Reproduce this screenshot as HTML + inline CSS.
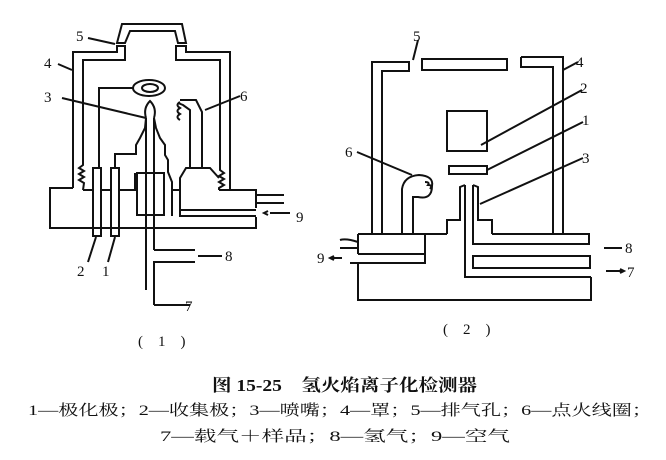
<!DOCTYPE html>
<html><head><meta charset="utf-8"><style>
body{margin:0;background:#fff;width:666px;height:460px;overflow:hidden}
svg{position:absolute;left:0;top:0}
.c{font-family:"Liberation Serif","Noto Serif CJK SC",serif;fill:#111}
</style></head><body>
<svg width="666" height="460" viewBox="0 0 666 460" xmlns="http://www.w3.org/2000/svg" fill="none" stroke="#111" stroke-width="2">
<path d="M117,43 L122,24 L182,24 L186,43 L178,43 L175,31 L130,31 L125,43 Z"/>
<path d="M73,188 L73,52 L117,52 L117,46 L125,46 L125,60 L83,60 L83,165 l-4,3 l5,3 l-5,3 l5,3 l-5,3 l5,3 L83,190"/>
<path d="M230,190 L230,52 L186,52 L186,46 L176,46 L176,60 L220,60 L220,170 l4,3 l-5,3 l5,3 l-5,3 l5,3 l-5,3 L219,190"/>
<path d="M73,188 L50,188 L50,228 L256,228 L256,217"/>
<path d="M83,190 L93,190 M101,190 L111,190 M119,190 L135,190 L135,173"/>
<path d="M172,190 L180,190 L180,216 L256,216 M172,190 L172,216"/>
<path d="M219,190 L256,190 L256,208"/>
<path d="M180,210 L256,210"/>
<path d="M256,195 L284,195 M256,203 L284,203"/>
<path d="M270,213 L290,213 M268,211 l-4,2 l4,2"/>
<path d="M180,205 L180,178 L186,168 L210,168 L219,178"/>
<path d="M190,168 L190,110 L183,105 L178,103 M202,168 L202,112 L196,100 L180,100"/>
<path d="M180,102 q-5,3 0,6 q-5,3 0,6 q-5,3 0,6"/>
<rect x="93" y="168" width="8" height="68"/>
<rect x="111" y="168" width="8" height="68"/>
<path d="M99,168 L99,88 L133,88"/>
<path d="M115,168 L115,154 L136,154 L136,145 L140,138 L145,128 L146,118"/>
<path d="M154,118 L156,128 L160,138 L165,145 L165,155 L168,160 L168,172 L172,182 L172,190"/>
<ellipse cx="149" cy="88" rx="16" ry="8"/>
<ellipse cx="150" cy="88" rx="8" ry="4"/>
<rect x="137" y="173" width="27" height="42"/>
<path d="M146,290 L146,118 M154,250 L154,118"/>
<path d="M146,118 q-3,-10 4,-17 q7,7 4,17"/>
<path d="M154,250 L195,250 M154,305 L154,262 L195,262 M154,305 L190,305"/>
<path d="M198,256 L222,256"/>
<path d="M88,38 L115,44 M58,64 L72,70 M62,98 L146,118 M240,96 L205,110 M88,262 L96,237 M108,262 L115,237"/>
<path d="M372,234 L372,62 L409,62 L409,71 L382,71 L382,234"/>
<rect x="422" y="59" width="85" height="11"/>
<path d="M521,57 L563,57 L563,234 M521,57 L521,67 L553,67 L553,234"/>
<rect x="447" y="111" width="40" height="40"/>
<rect x="449" y="166" width="38" height="8"/>
<path d="M465,185 L460,187 L460,220 L447,220 L447,234 M473,185 L478,187 L478,220 L492,220 L492,234"/>
<path d="M465,185 L465,277 L591,277 M473,185 L473,244 L590,244"/>
<path d="M473,256 L590,256 L590,268 L473,268 Z"/>
<path d="M358,234 L425,234 L425,263 L350,263 M358,254 L425,254 M358,234 L358,254 M447,234 L425,234"/>
<path d="M492,234 L589,234 L589,244 M358,263 L358,300 L591,300 L591,277"/>
<path d="M340,240 q6,-2 18,2 M340,248 L358,248"/>
<path d="M330,258 L342,258 M334,256 l-4,2 l4,2"/>
<path d="M402,234 L402,189 Q404,176 419,175 Q434,176 432,186 Q432,200 418,197 L413,197 L413,234"/>
<path d="M425,182 q5,0 3,3 q5,0 2,4"/>
<path d="M604,248 L622,248 M606,271 L624,271 M620,269 l4,2 l-4,2"/>
<path d="M418,40 L413,60 M578,62 L563,70 M582,90 L481,145 M583,122 L487,170 M583,158 L480,204 M357,152 L412,175"/>
</svg>
<svg width="666" height="460" xmlns="http://www.w3.org/2000/svg">
<g class="c" font-size="15">
<text x="76" y="41">5</text><text x="44" y="68">4</text><text x="44" y="102">3</text>
<text x="240" y="101">6</text><text x="77" y="276">2</text><text x="102" y="276">1</text>
<text x="296" y="222">9</text><text x="225" y="261">8</text><text x="185" y="311">7</text>
<text x="138" y="346">(　1　)</text>
<text x="413" y="41">5</text><text x="576" y="67">4</text><text x="580" y="93">2</text>
<text x="582" y="125">1</text><text x="582" y="163">3</text><text x="345" y="157">6</text>
<text x="625" y="253">8</text><text x="627" y="277">7</text><text x="317" y="263">9</text>
<text x="443" y="334">(　2　)</text>
</g>
<g class="c">
<text x="212" y="391" font-size="17" font-weight="bold" textLength="265" lengthAdjust="spacingAndGlyphs">图 15-25　氢火焰离子化检测器</text>
<text x="28" y="415" font-size="15" textLength="624" lengthAdjust="spacingAndGlyphs">1—极化极；2—收集极；3—喷嘴；4—罩；5—排气孔；6—点火线圈；</text>
<text x="160" y="441" font-size="15" textLength="350" lengthAdjust="spacingAndGlyphs">7—载气＋样品；8—氢气；9—空气</text>
</g>
</svg>
</body></html>
